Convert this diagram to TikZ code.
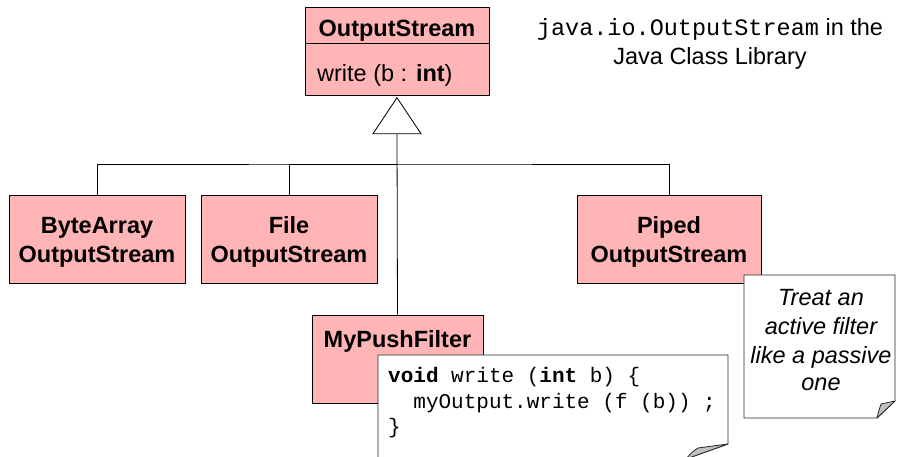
\documentclass[tikz,border=0pt]{standalone}
\usepackage{fontspec}
\setmainfont{Liberation Sans}
\setmonofont{Liberation Mono}
\definecolor{pinkfill}{RGB}{255,181,181}
\definecolor{curlgray}{RGB}{192,192,192}
\tikzset{
  cls/.style={draw=black, fill=pinkfill, line width=0.8pt, inner sep=0pt},
  lbl/.style={font=\fontsize{23.5}{29}\selectfont, inner sep=0pt, anchor=base},
  lblb/.style={lbl, font=\bfseries\fontsize{23.5}{29}\selectfont},
  lbli/.style={lbl, font=\itshape\fontsize{23.5}{29}\selectfont},
  code/.style={font=\ttfamily\fontsize{21}{25.5}\selectfont, inner sep=0pt, anchor=base west},
  link/.style={draw=black, line width=0.8pt},
  notebox/.style={draw=black!85, fill=white, line width=0.8pt, line join=round},
  curl/.style={draw=black!85, fill=curlgray, line width=0.8pt, line join=round}
}
\begin{document}
\begin{tikzpicture}[x=1pt,y=-1pt]
\clip (0,0) rectangle (898,457);
\fill[white] (0,0) rectangle (898,457);

% base class with one operation
\node[cls, minimum width=184pt, minimum height=36pt] (osname) at (397,25) {};
\node[cls, minimum width=184pt, minimum height=52pt, anchor=north] (osops) at (osname.south) {};
\node[lblb] (osnamet) at (397,37) {OutputStream};
\node[lbl, anchor=base west] (osopst) at (317,82) {write (b : \textbf{int})};

% library note
\node[lbl] (lib1) at (710,36) {\texttt{java.io.OutputStream} in the};
\node[lbl] (lib2) at (710,65) {Java Class Library};

% subclasses
\node[cls, minimum width=176pt, minimum height=88pt] (ba) at (97,239) {};
\node[cls, minimum width=176pt, minimum height=88pt] (fo) at (289,239) {};
\node[cls, minimum width=184pt, minimum height=88pt] (pp) at (669,239) {};
\node[cls, minimum width=171pt, minimum height=88pt] (mpf) at (397.5,359) {};

\node[lblb] (ba1) at (97,234) {ByteArray};
\node[lblb] (ba2) at (97,263) {OutputStream};
\node[lblb] (fo1) at (289,234) {File};
\node[lblb] (fo2) at (289,263) {OutputStream};
\node[lblb] (pp1) at (669,234) {Piped};
\node[lblb] (pp2) at (669,263) {OutputStream};
\node[lblb] (mpft) at (397.5,348) {MyPushFilter};

% generalization: hollow triangle and tree of lines
\path (osops.south) ++(0,1.5) coordinate (apex);
\path (apex) ++(0,36) coordinate (tribase);
\coordinate (hub) at (397,164);
\draw[link] (tribase) -- (mpf.north);
\draw[link] (ba.north) |- (hub) -| (pp.north);
\draw[link] (fo.north) |- (hub);
\draw[link, fill=white, line join=miter] (apex) -- ++(-24,36) -- ++(48,0) -- cycle;

% comment on the design
\draw[notebox] (744,275) -- (895,275) -- (895,401) -- (877,418) -- (744,418) -- cycle;
\draw[curl] (895,401) -- (881,404) .. controls (879,410) .. (877,418) -- cycle;
\node[lbli] (n1) at (821,306) {Treat an};
\node[lbli] (n2) at (821,335) {active filter};
\node[lbli] (n3) at (821,363) {like a passive};
\node[lbli] (n4) at (821,391) {one};

% implementation of write
\draw[notebox] (378,355) -- (728,355) -- (728,444) -- (686,459) -- (378,459) -- cycle;
\draw[curl] (728,444) -- (698,448) .. controls (692,452) .. (686,459) -- cycle;
\node[code] (c1) at (388,382) {\textbf{void} write (\textbf{int} b) \{};
\node[code] (c2) at (388,408) {\ \ myOutput.write (f (b)) ;};
\node[code] (c3) at (388,433) {\}};
\end{tikzpicture}
\end{document}
